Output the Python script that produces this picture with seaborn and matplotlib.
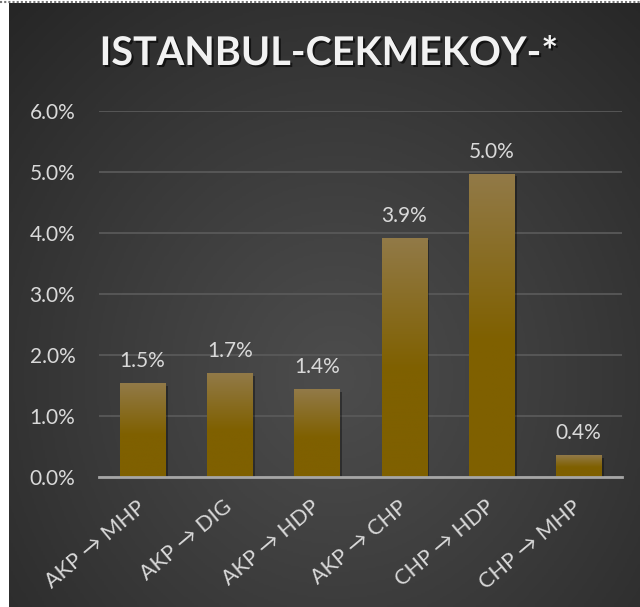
"""Istanbul-Cekmekoy vote transfer bar chart."""

import matplotlib

matplotlib.use("Agg")

import matplotlib.patheffects as pe
import matplotlib.pyplot as plt
import numpy as np
import pandas as pd
import seaborn as sns
from matplotlib.colors import LinearSegmentedColormap
from matplotlib.lines import Line2D
from matplotlib.ticker import FuncFormatter, MultipleLocator

TITLE = "ISTANBUL-CEKMEKOY-*"
transfers = ["AKP → MHP", "AKP → DIG", "AKP → HDP", "AKP → CHP", "CHP → HDP", "CHP → MHP"]
shares = [1.54, 1.70, 1.43, 3.92, 4.97, 0.36]

TEXT = "#d9d9d9"
BAR_TOP = "#927a48"
BAR_BOTTOM = "#7f6000"

sns.set_theme(style="white")
plt.rcParams["font.family"] = ["Lato", "DejaVu Sans"]

W, H = 640, 607
fig = plt.figure(figsize=(W / 100, H / 100), dpi=100, facecolor="white")

# dark radial background panel
bg = fig.add_axes([9 / W, 0, (W - 9) / W, (H - 3) / H], zorder=-2)
yy, xx = np.mgrid[0:1:300j, 0:1:300j]
r = np.sqrt(((xx - 0.52) / 0.75) ** 2 + ((yy - 0.62) / 0.85) ** 2)
r = np.clip(r / r.max(), 0, 1) ** 1.1
bg_cmap = LinearSegmentedColormap.from_list("bg", ["#4c4c4c", "#262626"])
bg.imshow(r, cmap=bg_cmap, aspect="auto", extent=(0, 1, 0, 1), vmin=0, vmax=1)
bg.set_axis_off()

fig.add_artist(Line2D([0, 1], [1 - 1.5 / H, 1 - 1.5 / H], transform=fig.transFigure,
                      color="#777777", lw=1.5, ls=(0, (1, 1))))

ax = fig.add_axes([99 / W, 1 - 476.7 / H, 523 / W, 366 / H])
ax.set_facecolor("none")

df = pd.DataFrame({"transfer": transfers, "share": shares})
sns.barplot(data=df, x="transfer", y="share", color=BAR_BOTTOM, width=0.517,
            saturation=1, linewidth=0, edgecolor="none", ax=ax, zorder=3)

# vertical gradient fill on each bar, with a soft drop shadow
bar_cmap = LinearSegmentedColormap.from_list("bar", [(0, BAR_BOTTOM), (0.45, BAR_BOTTOM), (1, BAR_TOP)])
grad = np.linspace(0, 1, 256).reshape(-1, 1)
for patch in ax.patches:
    patch.set_path_effects([pe.SimplePatchShadow(offset=(2, -2), shadow_rgbFace="black", alpha=0.35),
                            pe.Normal()])
    x0, y0 = patch.get_x(), patch.get_y()
    w, h = patch.get_width(), patch.get_height()
    im = ax.imshow(grad, cmap=bar_cmap, origin="lower", aspect="auto",
                   extent=(x0, x0 + w, y0, y0 + h), zorder=4)
    im.set_clip_path(patch)

for i, v in enumerate(shares):
    ax.annotate(f"{v:.1f}%", (i, v), xytext=(0, 11.5), textcoords="offset points",
                ha="center", va="baseline", color=TEXT, fontsize=15, zorder=5)

ax.set_xlim(-0.5, len(transfers) - 0.5)
ax.set_ylim(0, 6)
ax.yaxis.set_major_locator(MultipleLocator(1))
ax.yaxis.set_major_formatter(FuncFormatter(lambda v, _: f"{v:.1f}%"))
ax.grid(axis="y", color="#595959", lw=1.3, zorder=0)
ax.set_axisbelow(True)
for side in ["top", "right", "left"]:
    ax.spines[side].set_visible(False)
ax.spines["bottom"].set_color("#a6a6a6")
ax.spines["bottom"].set_linewidth(2)
ax.spines["bottom"].set_zorder(6)
ax.set_xlabel("")
ax.set_ylabel("")
ax.tick_params(axis="y", length=0, pad=17, labelsize=15, labelcolor=TEXT)
ax.tick_params(axis="x", length=0, pad=20, labelsize=15.5, labelcolor=TEXT)
ax.set_xticks(range(len(transfers)))
ax.set_xticklabels(transfers, rotation=40, ha="right", va="center", rotation_mode="anchor")

fig.text(0.515, 1 - 65 / H, TITLE, ha="center", va="baseline", fontsize=28.5,
         fontweight="bold", color="#f2f2f2",
         path_effects=[pe.withSimplePatchShadow(offset=(1.5, -1.5), shadow_rgbFace="black", alpha=0.6)])

fig.savefig("out.png", dpi=100, facecolor=fig.get_facecolor())
